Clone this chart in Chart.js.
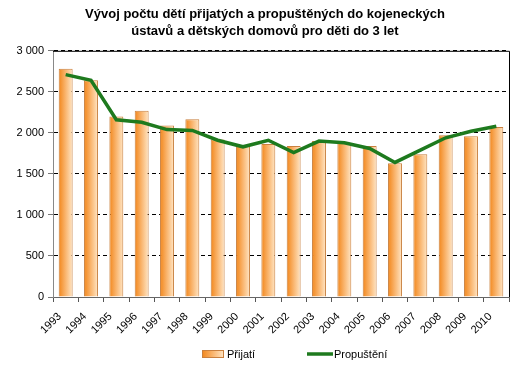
<!DOCTYPE html>
<html>
<head>
<meta charset="utf-8">
<script src="https://cdn.jsdelivr.net/npm/chart.js@4"></script>
<style>
  html, body { margin: 0; padding: 0; background: #fff; }
  #box { width: 523px; height: 372px; }
</style>
</head>
<body>
<div id="box"><canvas id="myChart"></canvas></div>
<script>
const years = ["1993", "1994", "1995", "1996", "1997", "1998", "1999", "2000", "2001",
  "2002", "2003", "2004", "2005", "2006", "2007", "2008", "2009", "2010"];
const prijati = [2780, 2640, 2200, 2270, 2090, 2165, 1920, 1840, 1865,
  1840, 1900, 1880, 1840, 1630, 1740, 1970, 1960, 2070];
const propusteni = [2710, 2640, 2160, 2130, 2040, 2030, 1910, 1830, 1910,
  1760, 1900, 1880, 1810, 1640, 1790, 1940, 2020, 2080];
const yTicks = [0, 500, 1000, 1500, 2000, 2500, 3000];

const fontName = "'Liberation Sans', Arial, sans-serif";

function orangeGradient(c, x0, x1) {
  const g = c.createLinearGradient(x0, 0, x1, 0);
  g.addColorStop(0, '#f2861a');
  g.addColorStop(0.45, '#f9b167');
  g.addColorStop(1, '#ffe6c6');
  return g;
}

// orange bar gradient, dark on the left, pale on the right
function barFill(ctx) {
  const chart = ctx.chart;
  if (!chart.chartArea || ctx.dataIndex === undefined) return '#f7a552';
  const xs = chart.scales.x;
  const x = xs.getPixelForValue(ctx.dataIndex);
  const w = xs.width / years.length * 0.55;
  return orangeGradient(chart.ctx, x - w / 2, x + w / 2);
}

function fmt(v) {
  return String(v).replace(/\B(?=(\d{3})+(?!\d))/g, ' ');
}

const framePlugin = {
  id: 'frame',
  afterDatasetsDraw(chart) {
    const c = chart.ctx, a = chart.chartArea;
    c.save();
    c.strokeStyle = '#000';
    c.lineWidth = 1;
    c.beginPath();
    c.moveTo(a.left, a.top + 0.5);
    c.lineTo(a.right + 0.5, a.top + 0.5);
    c.lineTo(a.right + 0.5, a.bottom);
    c.stroke();
    c.restore();
  },
  afterDraw(chart) {
    // legend
    const c = chart.ctx;
    const y = 354;
    const bars = chart.data.datasets[1];
    const line = chart.data.datasets[0];
    c.save();
    c.fillStyle = orangeGradient(c, 202, 224);
    c.fillRect(202, y - 4, 22, 8);
    c.strokeStyle = bars.borderColor;
    c.lineWidth = 1;
    c.strokeRect(202.5, y - 3.5, 21, 7);
    c.strokeStyle = line.borderColor;
    c.lineWidth = 3.5;
    c.beginPath();
    c.moveTo(307, y);
    c.lineTo(333, y);
    c.stroke();
    c.fillStyle = '#000';
    c.font = '11px ' + fontName;
    c.textBaseline = 'middle';
    c.fillText(bars.label, 227, y + 1);
    c.fillText(line.label, 334, y + 1);
    c.restore();
  }
};

const ctx = document.getElementById('myChart').getContext('2d');
const chart = new Chart(ctx, {
  type: 'bar',
  data: {
    labels: years,
    datasets: [
      {
        type: 'line',
        label: 'Propuštění',
        data: propusteni,
        borderColor: '#1e7a1e',
        backgroundColor: '#1e7a1e',
        borderWidth: 3.5,
        pointRadius: 0,
        tension: 0,
        order: 0
      },
      {
        label: 'Přijatí',
        data: prijati,
        backgroundColor: barFill,
        borderColor: '#c9803f',
        borderWidth: 1,
        barPercentage: 0.55,
        categoryPercentage: 1,
        order: 1
      }
    ]
  },
  options: {
    responsive: true,
    maintainAspectRatio: false,
    animation: false,
    devicePixelRatio: 1,
    layout: {
      padding: { left: 7, right: 0, top: 0, bottom: 35 }
    },
    plugins: {
      legend: { display: false },
      tooltip: { enabled: false },
      title: {
        display: true,
        text: ['Vývoj počtu dětí přijatých a propuštěných do kojeneckých',
               'ústavů a dětských domovů pro děti do 3 let'],
        color: '#000',
        font: { family: fontName, size: 13, weight: 'bold', lineHeight: 1.3 },
        padding: { top: 6, bottom: 11 }
      }
    },
    scales: {
      x: {
        offset: true,
        grid: {
          offset: true,
          drawOnChartArea: false,
          drawTicks: true,
          tickLength: 5,
          tickColor: '#555'
        },
        border: { color: '#666', width: 1 },
        ticks: {
          color: '#000',
          maxRotation: 45,
          minRotation: 45,
          padding: 8,
          labelOffset: -6,
          font: { family: fontName, size: 11 }
        },
        afterFit(scale) { scale.height = 40; }
      },
      y: {
        min: 0,
        max: 3000,
        afterBuildTicks(scale) {
          scale.ticks = yTicks.map(v => ({ value: v }));
        },
        grid: {
          color: '#000',
          lineWidth: 1,
          tickLength: 5,
          tickColor: '#777',
          tickBorderDash: [],
          drawTicks: true
        },
        border: { color: '#888', width: 1, dash: [4, 3] },
        ticks: {
          color: '#000',
          padding: 4,
          font: { family: fontName, size: 11 },
          callback: function (value) { return fmt(value); }
        },
        afterFit(scale) { scale.width = 46; }
      },
      // empty spacer on the right, keeps the title centred like the original
      spacer: {
        type: 'linear',
        position: 'right',
        display: true,
        grid: { display: false },
        border: { display: false },
        ticks: { display: false },
        afterFit(scale) { scale.width = 14; }
      }
    }
  },
  plugins: [framePlugin]
});
</script>
</body>
</html>
